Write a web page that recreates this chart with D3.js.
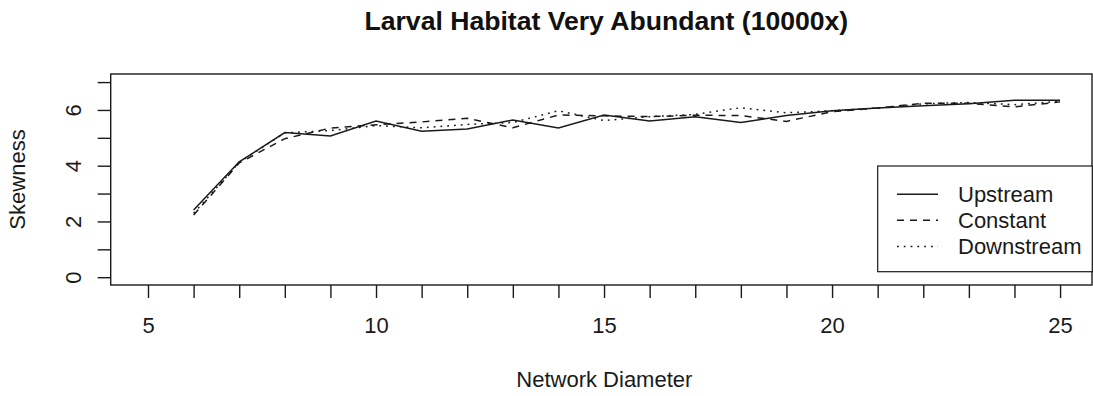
<!DOCTYPE html>
<html>
<head>
<meta charset="utf-8">
<script src="https://cdn.jsdelivr.net/npm/d3@7"></script>
<style>
  html, body { margin: 0; padding: 0; background: #fff; }
  svg { display: block; font-family: "Liberation Sans", Arial, sans-serif; }
</style>
</head>
<body>
<svg id="chart" width="1093" height="396"></svg>
<script>
// Network diameter on the x axis
const diameter = [6, 7, 8, 9, 10, 11, 12, 13, 14, 15, 16, 17, 18, 19, 20, 21, 22, 23, 24, 25];

// Skewness for each weighting scheme
const upstream   = [2.41, 4.14, 5.19, 5.07, 5.60, 5.24, 5.32, 5.64, 5.35, 5.82, 5.60, 5.76, 5.55, 5.80, 5.97, 6.07, 6.15, 6.22, 6.35, 6.35];
const constant   = [2.23, 4.10, 4.97, 5.35, 5.47, 5.57, 5.70, 5.36, 5.82, 5.79, 5.76, 5.81, 5.80, 5.59, 5.94, 6.07, 6.24, 6.24, 6.11, 6.29];
const downstream = [2.29, 4.12, 5.18, 5.26, 5.44, 5.36, 5.48, 5.55, 5.97, 5.62, 5.76, 5.84, 6.08, 5.90, 5.97, 6.07, 6.22, 6.27, 6.19, 6.31];

const seriesNames = ["Upstream", "Constant", "Downstream"];
const xTicks = [5, 6, 7, 8, 9, 10, 11, 12, 13, 14, 15, 16, 17, 18, 19, 20, 21, 22, 23, 24, 25];
const xTickLabels = [5, 10, 15, 20, 25];
const yTicks = [0, 1, 2, 3, 4, 5, 6, 7];
const yTickLabels = [0, 2, 4, 6];

const titleText = "Larval Habitat Very Abundant (10000x)";
const xTitle = "Network Diameter";
const yTitle = "Skewness";

// Plot region
const box = { left: 110.7, right: 1092, top: 74, bottom: 285 };
const ink = "#1a1a1a";
const labelSize = 22;
const dashStyles = [null, "7,6", "1.8,5"];

const svg = d3.select("#chart");

const x = d3.scaleLinear().domain([4.182, 25.70]).range([box.left, box.right]);
const y = d3.scaleLinear().domain([-0.28, 7.29]).range([box.bottom, box.top]);

// Frame around the plotting area
svg.append("rect")
  .attr("x", box.left).attr("y", box.top)
  .attr("width", box.right - box.left).attr("height", box.bottom - box.top)
  .attr("fill", "none").attr("stroke", ink).attr("stroke-width", 1.4);

// X axis: a tick at every integer, labels every fifth
const xAxis = d3.axisBottom(x).tickValues(xTicks).tickSize(13)
  .tickFormat(d => xTickLabels.includes(d) ? d : "");
const gx = svg.append("g").attr("transform", `translate(0,${box.bottom})`).call(xAxis);
gx.select(".domain").remove();
gx.selectAll(".tick line").attr("stroke", ink).attr("stroke-width", 1.4);
gx.selectAll(".tick text")
  .attr("y", 0).attr("dy", null)
  .attr("transform", "translate(0,48)")
  .attr("fill", ink).attr("font-size", labelSize)
  .attr("font-family", "Liberation Sans, Arial, sans-serif");

// Y axis: ticks at every integer, rotated labels every second
const yAxis = d3.axisLeft(y).tickValues(yTicks).tickSize(13)
  .tickFormat(d => yTickLabels.includes(d) ? d : "");
const gy = svg.append("g").attr("transform", `translate(${box.left},0)`).call(yAxis);
gy.select(".domain").remove();
gy.selectAll(".tick line").attr("stroke", ink).attr("stroke-width", 1.4);
gy.selectAll(".tick text")
  .attr("x", 0).attr("dy", null).attr("y", 0)
  .attr("text-anchor", "middle")
  .attr("transform", "translate(-30,0) rotate(-90)")
  .attr("fill", ink).attr("font-size", labelSize)
  .attr("font-family", "Liberation Sans, Arial, sans-serif");

// Series lines
const seriesValues = [upstream, constant, downstream];
const line = d3.line().x(d => x(d[0])).y(d => y(d[1]));
seriesValues.forEach((vals, i) => {
  svg.append("path")
    .datum(diameter.map((d, j) => [d, vals[j]]))
    .attr("d", line)
    .attr("fill", "none")
    .attr("stroke", ink)
    .attr("stroke-width", 1.5)
    .attr("stroke-dasharray", dashStyles[i]);
});

// Titles
svg.append("text")
  .attr("x", (box.left + box.right) / 2 + 5).attr("y", 30)
  .attr("text-anchor", "middle")
  .attr("font-weight", "bold").attr("font-size", 26.6)
  .attr("fill", "#111")
  .text(titleText);

svg.append("text")
  .attr("x", (box.left + box.right) / 2 + 3).attr("y", 387)
  .attr("text-anchor", "middle")
  .attr("font-size", labelSize).attr("fill", ink)
  .text(xTitle);

svg.append("text")
  .attr("transform", `translate(25,${(box.top + box.bottom) / 2}) rotate(-90)`)
  .attr("text-anchor", "middle")
  .attr("font-size", labelSize).attr("fill", ink)
  .text(yTitle);

// Legend
const legend = { left: 877.7, top: 166, width: 214.6, height: 105.7, rowY: [194.3, 220.3, 246.5] };
svg.append("rect")
  .attr("x", legend.left).attr("y", legend.top)
  .attr("width", legend.width).attr("height", legend.height)
  .attr("fill", "#fff").attr("stroke", ink).attr("stroke-width", 1.2);

const lg = svg.append("g").selectAll("g").data(seriesNames).join("g")
  .attr("transform", (d, i) => `translate(0,${legend.rowY[i]})`);
lg.append("line")
  .attr("x1", 897).attr("x2", 938).attr("y1", 0).attr("y2", 0)
  .attr("stroke", ink).attr("stroke-width", 1.5)
  .attr("stroke-dasharray", (d, i) => dashStyles[i]);
lg.append("text")
  .attr("x", 958).attr("y", 7.5)
  .attr("font-size", labelSize).attr("fill", ink)
  .text(d => d);
</script>
</body>
</html>
